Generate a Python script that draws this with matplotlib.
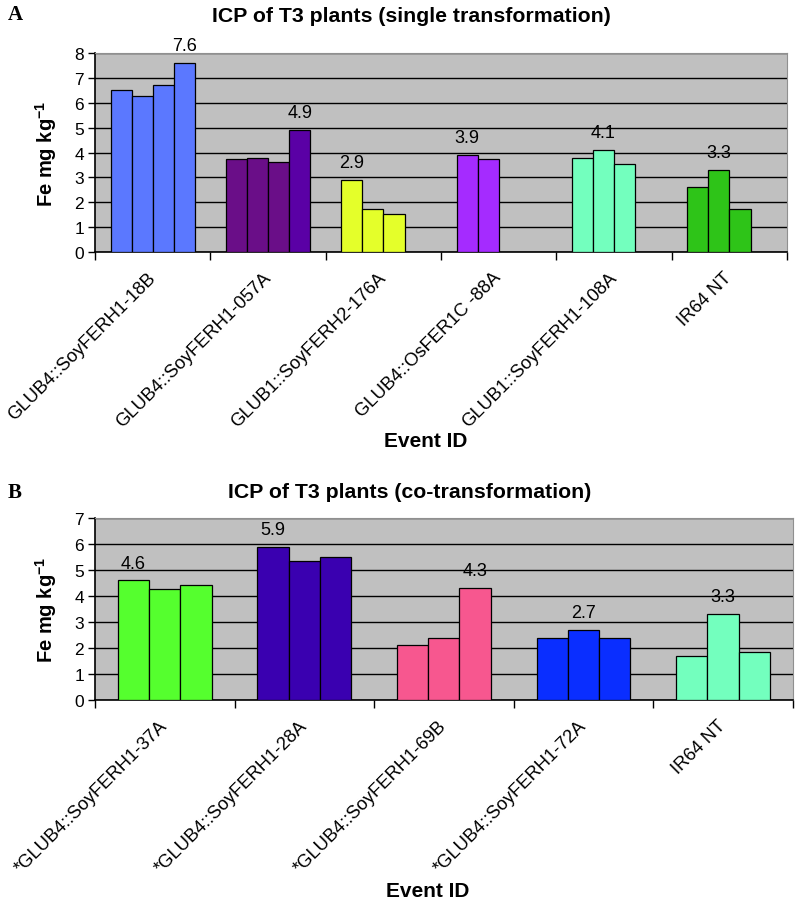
import numpy as np
import matplotlib
matplotlib.use("Agg")
import matplotlib.pyplot as plt
import matplotlib.transforms as mtransforms

plt.rcParams['font.family'] = ['Liberation Sans', 'DejaVu Sans']
plt.rcParams['mathtext.fontset'] = 'custom'
plt.rcParams['mathtext.rm'] = 'Liberation Sans'
plt.rcParams['mathtext.bf'] = 'Liberation Sans:bold'

nan = np.nan

# ---- Panel A data ----
cats_a = ["GLUB4::SoyFERH1-18B", "GLUB4::SoyFERH1-057A", "GLUB1::SoyFERH2-176A",
          "GLUB4::OsFER1C -88A", "GLUB1::SoyFERH1-108A", "IR64 NT"]
a_rep1 = [6.50, 3.73, 2.90, 3.90, 3.77, 2.61]
a_rep2 = [6.27, 3.79, 1.73, 3.73, 4.10, 3.30]
a_rep3 = [6.72, 3.63, 1.51, nan, 3.52, 1.73]
a_rep4 = [7.60, 4.90, nan, nan, nan, nan]
colors_a = ["#5B78FF", "#6A0E88", "#E4FF2A", "#A52BFF", "#73FFBE", "#2EC418"]
# bar 4 of group 2 has a slightly different shade
colors_a_rep4 = ["#5B78FF", "#5A00A5", "#E4FF2A", "#A52BFF", "#73FFBE", "#2EC418"]

# ---- Panel B data ----
cats_b = ["*GLUB4::SoyFERH1-37A", "*GLUB4::SoyFERH1-28A", "*GLUB4::SoyFERH1-69B",
          "*GLUB4::SoyFERH1-72A", "IR64 NT"]
b_rep1 = [4.60, 5.90, 2.13, 2.40, 1.68]
b_rep2 = [4.28, 5.33, 2.40, 2.70, 3.30]
b_rep3 = [4.41, 5.50, 4.30, 2.40, 1.86]
colors_b = ["#55FF2E", "#3A00B0", "#F7578F", "#0A2EFF", "#73FFBE"]

W, H = 795, 904
fig = plt.figure(figsize=(W / 100, H / 100), dpi=100)


def draw_panel(ax, cats, reps, rep_colors, ymax, bw, off):
    n = len(cats)
    ax.set_facecolor("#C0C0C0")
    ax.set_xlim(0, n)
    ax.set_ylim(0, ymax)
    ax.set_axisbelow(True)
    ax.yaxis.grid(True, color="black", linewidth=1.0)
    x = np.arange(n)
    for j, (vals, cols) in enumerate(zip(reps, rep_colors)):
        ax.bar(x + off + j * bw, vals, width=bw, align="edge", color=cols,
               edgecolor="black", linewidth=0.9, zorder=3)
    # value labels above the highest bar in each group
    arr = np.array(reps, dtype=float)
    for i in range(n):
        col = arr[:, i]
        j = int(np.nanargmax(col))
        ax.annotate(f"{col[j]:.1f}", (i + off + (j + 0.5) * bw, col[j]),
                    xytext=(0, 12.5), textcoords="offset points",
                    ha="center", va="center", fontsize=13)
    ax.set_yticks(range(0, ymax + 1))
    ax.tick_params(axis="y", labelsize=12.5, length=5, width=1, direction="out", pad=3)
    ax.set_xticks(range(0, n + 1))
    ax.set_xticklabels([])
    ax.tick_params(axis="x", which="major", length=6, width=1, direction="out")
    ax.set_xticks(x + 0.5, minor=True)
    ax.set_xticklabels(cats, minor=True, rotation=45, ha="right",
                       rotation_mode="anchor", fontsize=13.2)
    ax.tick_params(axis="x", which="minor", length=0, pad=12)
    shift = mtransforms.ScaledTranslation(-6 / 100, 0, fig.dpi_scale_trans)
    for lab in ax.get_xticklabels(minor=True):
        lab.set_transform(lab.get_transform() + shift)
    for s in ("top", "right"):
        ax.spines[s].set_color("#909090")
    for s in ("left", "bottom"):
        ax.spines[s].set_color("black")
        ax.spines[s].set_linewidth(1.2)


# Panel A
axA = fig.add_axes([95 / W, 1 - 253 / H, (787 - 95) / W, (253 - 54) / H])
draw_panel(axA, cats_a, [a_rep1, a_rep2, a_rep3, a_rep4],
           [colors_a, colors_a, colors_a, colors_a_rep4], 8, 0.183, 0.135)

# Panel B
axB = fig.add_axes([95 / W, 1 - 701 / H, (793 - 95) / W, (701 - 519) / H])
draw_panel(axB, cats_b, [b_rep1, b_rep2, b_rep3],
           [colors_b, colors_b, colors_b], 7, 0.224, 0.163)

# Titles, letters and axis labels
fig.text(411 / W, 1 - 17 / H, "ICP of T3 plants (single transformation)",
         ha="center", va="center", fontsize=15.3, fontweight="bold")
fig.text(410 / W, 1 - 493 / H, "ICP of T3 plants (co-transformation)",
         ha="center", va="center", fontsize=15.3, fontweight="bold")
fig.text(8 / W, 1 - 15 / H, "A", family="Liberation Serif", fontweight="bold",
         fontsize=15, ha="left", va="center")
fig.text(8 / W, 1 - 493 / H, "B", family="Liberation Serif", fontweight="bold",
         fontsize=15, ha="left", va="center")
for ytop, ybot in ((54, 253), (519, 701)):
    fig.text(46 / W, 1 - (ytop + ybot) / 2 / H, r"Fe mg kg$^{\mathregular{-1}}$",
             rotation=90, ha="center", va="center", fontsize=14.5, fontweight="bold")
fig.text(426 / W, 1 - 442 / H, "Event ID", ha="center", va="center",
         fontsize=15, fontweight="bold")
fig.text(428 / W, 1 - 892 / H, "Event ID", ha="center", va="center",
         fontsize=15, fontweight="bold")

fig.savefig("out.png", dpi=100)
